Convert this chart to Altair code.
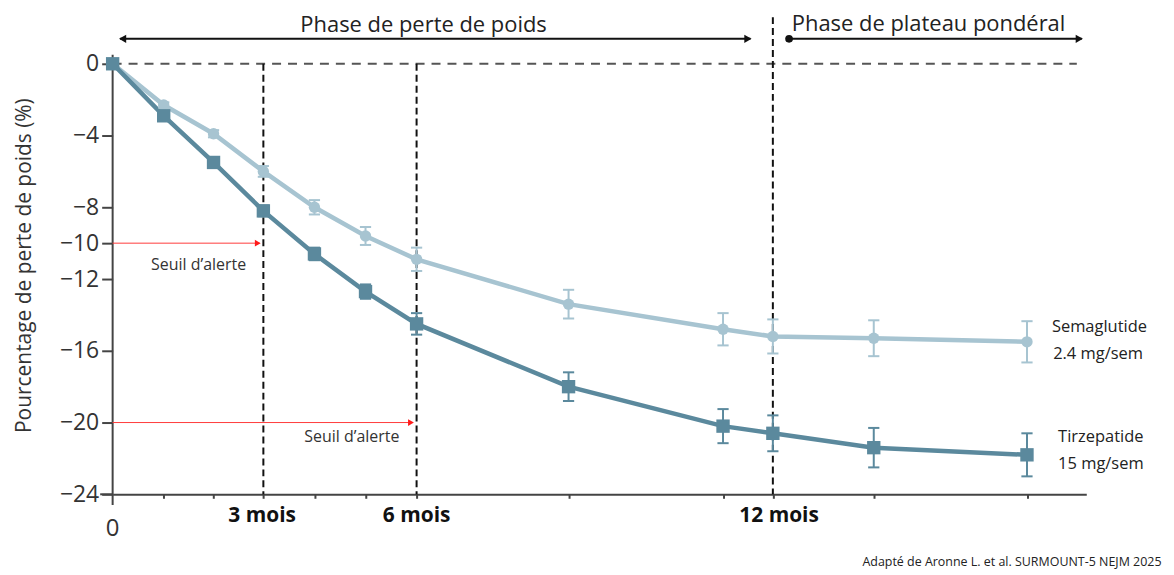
import altair as alt
import pandas as pd

# ---- data ----
x_pos = [0, 4.1, 8.1, 12.1, 16.2, 20.3, 24.4, 36.6, 49.0, 53.0, 61.1, 73.4]
sema = [0, -2.3, -3.9, -6.0, -8.0, -9.6, -10.9, -13.4, -14.8, -15.2, -15.3, -15.5]
sema_err = [0, 0.15, 0.2, 0.3, 0.4, 0.5, 0.65, 0.8, 0.9, 0.95, 1.0, 1.15]
tirz = [0, -2.9, -5.5, -8.2, -10.6, -12.7, -14.5, -18.0, -20.2, -20.6, -21.4, -21.8]
tirz_err = [0, 0.15, 0.2, 0.3, 0.35, 0.4, 0.6, 0.8, 0.95, 1.0, 1.1, 1.2]
series = ["Semaglutide", "Tirzepatide"]
colors = ["#a7c4d1", "#5b899d"]

y_ticks = [0, -4, -8, -10, -12, -16, -20, -24]
mois_labels = ["3 mois", "6 mois", "12 mois"]
mois_x = [12.1, 24.4, 53.0]
seuil_y = [-10, -20]
seuil_x = [12.1, 24.4]

FONT = "Open Sans"
X_MAX = 78.16

rows = []
for s, ys, es in [(series[0], sema, sema_err), (series[1], tirz, tirz_err)]:
    for x, y, e in zip(x_pos, ys, es):
        rows.append({"x": x, "y": y, "lo": y - e, "hi": y + e,
                     "cl": x - 0.45, "cr": x + 0.45, "serie": s})
df = pd.DataFrame(rows)

xs = alt.Scale(domain=[0, X_MAX], nice=False, zero=False)
ys_ = alt.Scale(domain=[-24, 3], nice=False, zero=False)
col = alt.Color("serie:N", scale=alt.Scale(domain=series, range=colors), legend=None)

base = alt.Chart(df)

line = base.mark_line(strokeWidth=4.5).encode(
    x=alt.X("x:Q", scale=xs,
            axis=alt.Axis(values=x_pos[1:], labels=False, title=None, grid=False,
                          tickSize=4, tickWidth=2, tickColor="#444",
                          domainColor="#444", domainWidth=2)),
    y=alt.Y("y:Q", scale=ys_,
            axis=alt.Axis(values=y_ticks, grid=False, domain=False,
                          labelExpr="replace(datum.label, '-', '−')",
                          labelFontSize=23, labelColor="#333", labelFont=FONT,
                          labelPadding=3, tickSize=11, tickWidth=2, tickColor="#444",
                          title="Pourcentage de perte de poids (%)",
                          titleFont=FONT, titleFontSize=21, titleFontWeight="normal",
                          titleColor="#333", titleAngle=-90, titleX=-88, titleY=256,
                          titleAlign="center", titleBaseline="middle")),
    color=col,
    detail="serie:N",
)

err = base.mark_rule(strokeWidth=2).encode(
    x="x:Q", y="lo:Q", y2="hi:Q", color=col)
cap_lo = base.mark_rule(strokeWidth=2).encode(
    x="cl:Q", x2="cr:Q", y="lo:Q", color=col)
cap_hi = base.mark_rule(strokeWidth=2).encode(
    x="cl:Q", x2="cr:Q", y="hi:Q", color=col)

pts_s = alt.Chart(df[df.serie == series[0]]).mark_point(
    filled=True, opacity=1, shape="circle", size=130, color=colors[0]).encode(x="x:Q", y="y:Q")
pts_t = alt.Chart(df[df.serie == series[1]]).mark_point(
    filled=True, opacity=1, shape="square", size=180, color=colors[1]).encode(x="x:Q", y="y:Q")

# y axis line (extends above 0 and below -24) and small left stub of x axis
yline = alt.Chart(pd.DataFrame({"x": [0], "y": [0.5], "y2": [-24.6]})).mark_rule(
    strokeWidth=2, color="#444").encode(x="x:Q", y="y:Q", y2="y2:Q")
xstub = alt.Chart(pd.DataFrame({"x": [-1.0], "x2": [0], "y": [-24]})).mark_rule(
    strokeWidth=2, color="#444").encode(x="x:Q", x2="x2:Q", y="y:Q")

# dashed zero line
zero = alt.Chart(pd.DataFrame({"x": [0], "x2": [77.4], "y": [0]})).mark_rule(
    strokeWidth=2, color="#555", strokeDash=[9, 7]).encode(x="x:Q", x2="x2:Q", y="y:Q")

# vertical dashed lines
vd = pd.DataFrame({"x": mois_x, "top": [0, 0, 2.6], "bot": [-24, -24, -24]})
vlines = alt.Chart(vd).mark_rule(strokeWidth=2, color="#111", strokeDash=[7, 4]).encode(
    x="x:Q", y="top:Q", y2="bot:Q")

# red threshold arrows
sd = pd.DataFrame({"y": seuil_y, "x0": [0, 0], "x2": [v - 0.3 for v in seuil_x],
                   "xh": [v - 0.45 for v in seuil_x],
                   "tx": [6.9, 19.2], "ty": [-11.2, -20.8], "t": ["Seuil d’alerte", "Seuil d’alerte"]})
red_line = alt.Chart(sd).mark_rule(strokeWidth=1, color="#ff3b3b").encode(
    x="x0:Q", x2="x2:Q", y="y:Q")
red_head = alt.Chart(sd).mark_point(shape="triangle-right", filled=True, opacity=1, size=45,
                                    color="#ff1a1a").encode(x="xh:Q", y="y:Q")
red_txt = alt.Chart(sd).mark_text(font=FONT, fontSize=16, color="#333").encode(
    x="tx:Q", y="ty:Q", text="t:N")

# phase arrows
ph_y = 1.39
ph = pd.DataFrame({"x": [0.6, 54.3], "x2": [51.2, 77.8], "y": [ph_y, ph_y]})
ph_lines = alt.Chart(ph).mark_rule(strokeWidth=2, color="#111").encode(x="x:Q", x2="x2:Q", y="y:Q")
ph_left = alt.Chart(pd.DataFrame({"x": [0.8], "y": [ph_y]})).mark_point(
    filled=True, opacity=1, size=70, color="#111", shape="triangle-left").encode(x="x:Q", y="y:Q")
ph_right = alt.Chart(pd.DataFrame({"x": [51.0, 77.6], "y": [ph_y, ph_y]})).mark_point(
    filled=True, opacity=1, size=70, color="#111", shape="triangle-right").encode(x="x:Q", y="y:Q")
ph_dot = alt.Chart(pd.DataFrame({"x": [54.3], "y": [ph_y]})).mark_point(
    filled=True, opacity=1, size=60, color="#111", shape="circle").encode(x="x:Q", y="y:Q")
ph_txt = alt.Chart(pd.DataFrame({"x": [24.96, 65.5], "y": [2.17, 2.2],
                                 "t": ["Phase de perte de poids", "Phase de plateau pondéral"]})).mark_text(
    font=FONT, fontSize=22, color="#222").encode(x="x:Q", y="y:Q", text="t:N")

# right labels
rl = pd.DataFrame({"x": [75.4, 75.5, 75.9, 75.9], "y": [-14.7, -16.2, -20.8, -22.3],
                   "t": ["Semaglutide", "2.4 mg/sem", "Tirzepatide", "15 mg/sem"]})
right_txt = alt.Chart(rl).mark_text(font=FONT, fontSize=16.5, color="#222", align="left").encode(
    x="x:Q", y="y:Q", text="t:N")

# x labels
ml = pd.DataFrame({"x": [12.0, 24.4, 53.5], "y": [-25.2] * 3, "t": mois_labels})
mois_txt = alt.Chart(ml).mark_text(font=FONT, fontSize=21, fontWeight="bold", color="#111").encode(
    x="x:Q", y="y:Q", text="t:N")
zero_txt = alt.Chart(pd.DataFrame({"x": [0], "y": [-25.95], "t": ["0"]})).mark_text(
    font=FONT, fontSize=24, color="#333").encode(x="x:Q", y="y:Q", text="t:N")

foot = alt.Chart(pd.DataFrame({"x": [84.2], "y": [-27.75],
                               "t": ["Adapté de Aronne L. et al. SURMOUNT-5 NEJM 2025"]})).mark_text(
    font=FONT, fontSize=12.5, color="#222", align="right").encode(x="x:Q", y="y:Q", text="t:N")

chart = alt.layer(
    line, zero, vlines, yline, xstub, red_line, red_head, red_txt,
    err, cap_lo, cap_hi, pts_s, pts_t,
    ph_lines, ph_left, ph_right, ph_dot, ph_txt, right_txt, mois_txt, zero_txt, foot,
).properties(
    width=977, height=486,
    autosize=alt.AutoSizeParams(type="none"),
    padding={"left": 105, "top": 1, "right": 80, "bottom": 78},
).configure_view(stroke=None)

chart.save("out.html", embed_options={"renderer": "svg", "actions": False})
